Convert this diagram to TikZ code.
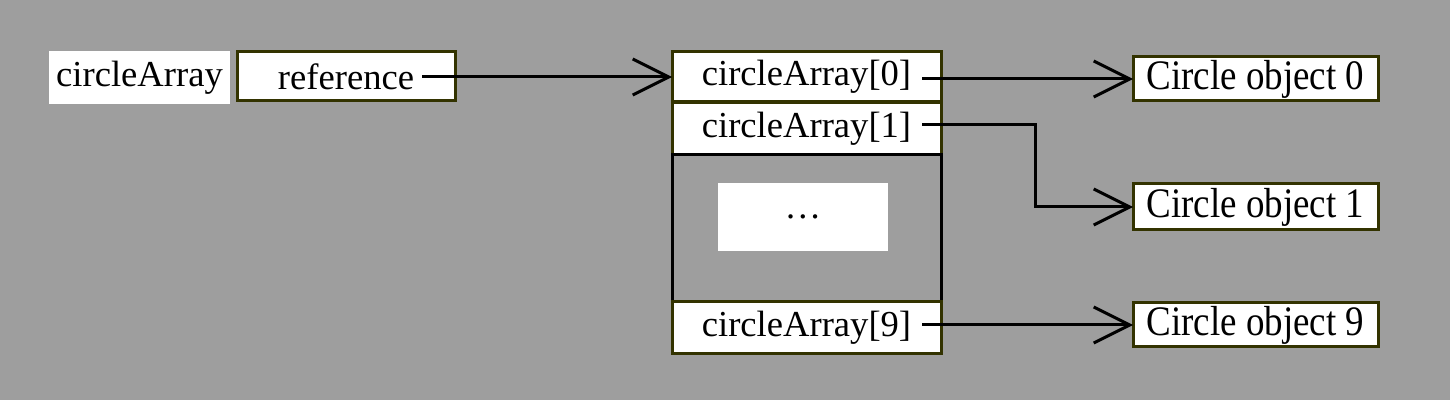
\documentclass[tikz,border=0pt]{standalone}
\usepackage{fontspec}
\setmainfont{Liberation Serif}
\newfontfamily\objfont[FakeStretch=0.88]{Liberation Serif}
\usetikzlibrary{arrows.meta}
\definecolor{boxline}{RGB}{51,51,0}
\definecolor{noise}{RGB}{158,158,158}
\tikzset{
    cell/.style={draw=boxline,line width=1.5pt,fill=white,inner sep=0pt,outer sep=0pt,
        minimum width=134.5pt,font=\fontsize{18.3}{20}\selectfont},
    object/.style={draw=boxline,line width=1.5pt,fill=white,inner sep=0pt,outer sep=0pt,
        minimum width=122.5pt,minimum height=22pt,font=\objfont\fontsize{21}{24}\selectfont},
    link/.style={line width=1.5pt,-{Straight Barb[length=18pt,width=18pt,line width=1.5pt]}},
}
\begin{document}
\begin{tikzpicture}[x=0.5pt,y=-0.5pt]
    \fill[noise](0,0)rectangle(1450,400);
    \useasboundingbox(0,0)rectangle(1450,400);
    % variable and its reference
    \node[fill=white,inner sep=0pt,minimum width=90.5pt,minimum height=26.5pt,
        font=\fontsize{18.3}{20}\selectfont](name)at(139.5,77.5){circleArray};
    \node[cell,minimum width=109pt,minimum height=24.5pt](ref)at(346,76.5){reference};
    % array cells
    \node[cell,minimum height=25pt](c0)at(806.5,77){circleArray[0]};
    \node[cell,minimum height=26pt](c1)at(806.5,129){circleArray[1]};
    \draw[line width=1.5pt](c1.south west)rectangle(806.5+134.5,302);
    \node[fill=white,inner sep=0pt,minimum width=85pt,minimum height=34pt,
        font=\fontsize{18.3}{20}\selectfont](dots)at(803,217){\dots};
    \node[cell,minimum height=26pt](c9)at(806.5,328){circleArray[9]};
    % objects
    \node[object](obj0)at(1255.5,79){Circle object 0};
    \node[object,minimum height=23pt](obj1)at(1255.5,207){Circle object 1};
    \node[object](obj9)at(1255.5,325){Circle object 9};
    % references
    \coordinate(ref-out)at(422,77);
    \coordinate(c0-out)at(922,79);
    \coordinate(c1-out)at(922,125);
    \coordinate(c1-bend)at(1035,125);
    \coordinate(c9-out)at(922,325);
    \draw[link](ref-out)--(ref-out-|c0.west);
    \draw[link](c0-out)--(obj0.west);
    \draw[link](c1-out)--(c1-bend)|-(obj1.west);
    \draw[link](c9-out)--(obj9.west);
\end{tikzpicture}
\end{document}
